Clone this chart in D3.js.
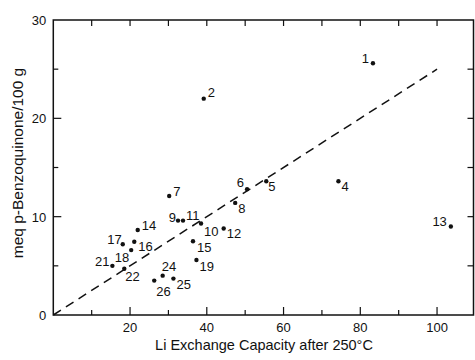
<!DOCTYPE html>
<html>
<head>
<meta charset="utf-8">
<script src="https://cdn.jsdelivr.net/npm/d3@7"></script>
<style>
  body { margin: 0; background: #fff; }
  svg { display: block; font-family: "Liberation Sans", Arial, sans-serif; }
</style>
</head>
<body>
<svg id="chart"></svg>
<script>
// sample ids and values
const ids = ["1", "2", "4", "5", "6", "7", "8", "9", "10", "11", "12", "13", "14",
  "15", "16", "17", "18", "19", "21", "22", "24", "25", "26"];
const liCapacity = [83.3, 39.2, 74.3, 55.5, 50.5, 30.2, 47.4, 32.5, 38.5, 33.8, 44.4, 103.6, 22.0,
  36.4, 21.1, 18.1, 20.3, 37.3, 15.4, 18.5, 28.5, 31.3, 26.3];
const benzoquinone = [25.6, 22.0, 13.6, 13.6, 12.8, 12.1, 11.4, 9.6, 9.3, 9.6, 8.8, 9.0, 8.65,
  7.5, 7.45, 7.2, 6.6, 5.6, 5.0, 4.7, 4.0, 3.7, 3.5];
// where each number sits next to its dot: [dx, dy, anchor]
const labelPos = [[-4, 0, "end"], [4, -2, "start"], [3, 10, "start"], [2, 10, "start"],
  [-3, -2, "end"], [4, 0, "start"], [3, 10, "start"], [-2, 1, "end"], [3, 12, "start"],
  [3, -1, "start"], [3, 10, "start"], [-4, -1, "end"], [4, 0, "start"], [4, 11, "start"],
  [4, 9, "start"], [-1, 0, "end"], [-2, 12, "end"], [3, 11, "start"], [-3, 0, "end"],
  [1, 12, "start"], [-1, -5, "start"], [3, 10, "start"], [2, 15, "start"]];
const fitLine = [[0, 0], [100, 25]];
const xTickLabels = [20, 40, 60, 80, 100];
const yTickLabels = [0, 10, 20, 30];
const xTitle = "Li Exchange Capacity after 250°C";
const yTitle = "meq p-Benzoquinone/100 g";

const W = 475, H = 360;
const svg = d3.select("#chart").attr("width", W).attr("height", H);

const x = d3.scaleLinear().domain([0, 109.5]).range([53.3, 473.5]);
const y = d3.scaleLinear().domain([0, 30]).range([315, 20]);

const [x0, x1] = x.range();
const [y0, y1] = y.range();

// frame
svg.append("rect")
  .attr("x", x0).attr("y", y1)
  .attr("width", x1 - x0).attr("height", y0 - y1)
  .attr("fill", "none").attr("stroke", "#111").attr("stroke-width", 1.5);

const xMinor = d3.range(10, 101, 10);
const yMinor = d3.range(5, 30, 5);

// bottom ticks (pointing in)
svg.append("g").selectAll("line").data(xMinor).join("line")
  .attr("x1", d => x(d)).attr("x2", d => x(d))
  .attr("y1", y0).attr("y2", d => y0 - (d % 20 === 0 ? 8 : 5))
  .attr("stroke", "#111").attr("stroke-width", 1.2);
// top ticks
svg.append("g").selectAll("line").data(xMinor).join("line")
  .attr("x1", d => x(d)).attr("x2", d => x(d))
  .attr("y1", y1).attr("y2", y1 + 6)
  .attr("stroke", "#111").attr("stroke-width", 1.2);
// left ticks
svg.append("g").selectAll("line").data(yMinor).join("line")
  .attr("x1", x0).attr("x2", d => x0 + (d % 10 === 0 ? 8 : 5))
  .attr("y1", d => y(d)).attr("y2", d => y(d))
  .attr("stroke", "#111").attr("stroke-width", 1.2);
// right ticks
svg.append("g").selectAll("line").data(yMinor).join("line")
  .attr("x1", x1).attr("x2", x1 - 6)
  .attr("y1", d => y(d)).attr("y2", d => y(d))
  .attr("stroke", "#111").attr("stroke-width", 1.2);

// tick labels
svg.append("g").selectAll("text").data(xTickLabels).join("text")
  .attr("x", d => x(d)).attr("y", 332)
  .attr("text-anchor", "middle").attr("font-size", 13).attr("fill", "#111")
  .text(d => d);
svg.append("g").selectAll("text").data(yTickLabels).join("text")
  .attr("x", x0 - 7).attr("y", d => y(d) + 5)
  .attr("text-anchor", "end").attr("font-size", 13).attr("fill", "#111")
  .text(d => d);

// axis titles
svg.append("text")
  .attr("x", 264).attr("y", 350)
  .attr("text-anchor", "middle").attr("font-size", 14.5).attr("fill", "#111")
  .text(xTitle);
svg.append("text")
  .attr("transform", `translate(23,163) rotate(-90)`)
  .attr("text-anchor", "middle").attr("font-size", 15.5).attr("fill", "#111")
  .text(yTitle);

// dashed proportional line
svg.append("path")
  .datum(fitLine)
  .attr("d", d3.line().x(d => x(d[0])).y(d => y(d[1])))
  .attr("fill", "none").attr("stroke", "#111")
  .attr("stroke-width", 1.5).attr("stroke-dasharray", "9 6");

// points and labels
const pts = ids.map((id, i) => ({ id, lx: liCapacity[i], bq: benzoquinone[i], pos: labelPos[i] }));

svg.append("g").selectAll("circle").data(pts).join("circle")
  .attr("cx", d => x(d.lx)).attr("cy", d => y(d.bq))
  .attr("r", 2.2).attr("fill", "#111");

svg.append("g").selectAll("text").data(pts).join("text")
  .attr("x", d => x(d.lx) + d.pos[0])
  .attr("y", d => y(d.bq) + d.pos[1])
  .attr("text-anchor", d => d.pos[2])
  .attr("font-size", 13).attr("fill", "#111")
  .text(d => d.id);
</script>
</body>
</html>
